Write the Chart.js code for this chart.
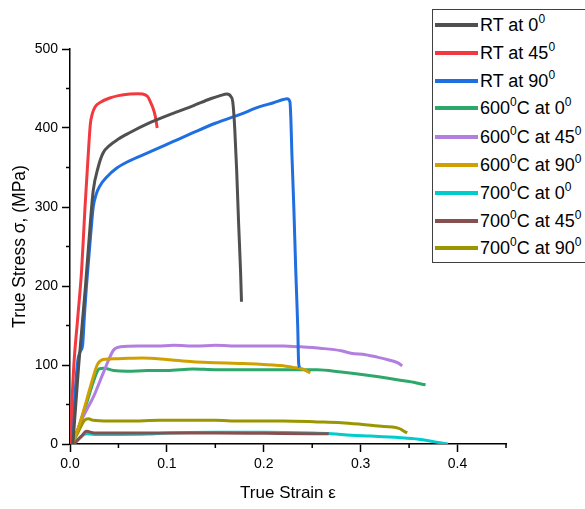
<!DOCTYPE html>
<html>
<head>
<meta charset="utf-8">
<script src="https://cdn.jsdelivr.net/npm/chart.js@4/dist/chart.umd.min.js"></script>
<style>
body{margin:0;width:585px;height:509px;overflow:hidden;background:#fff;font-family:'Liberation Sans',Arial,sans-serif;}
#wrap{position:relative;width:585px;height:509px;}
#legend{position:absolute;left:432px;top:9px;width:170px;height:252px;border:1px solid #404040;background:#fff;}
.row{position:absolute;left:0;height:20px;white-space:nowrap;}
.row .ln{position:absolute;left:2px;top:8px;width:43px;height:4px;}
.row .tx{position:absolute;left:47px;top:0px;font-size:18px;color:#000;line-height:20px;}
.row .tx span{font-size:12px;position:relative;top:-8px;}
</style>
</head>
<body>
<div id="wrap">
<canvas id="chart" width="585" height="509"></canvas>
<div id="legend"></div>
</div>
<script>
// curves, [strain, stress MPa]
var rt0 = [[0.003,0],[0.009,100],[0.016,200],[0.021,280],[0.024,321],[0.029,350],[0.034,368],[0.041,378],[0.05,386],[0.06,393],[0.083,407],[0.105,418],[0.127,428],[0.145,437],[0.155,441],[0.162,443],[0.166,440],[0.168,433],[0.17,400],[0.172,347],[0.174,280],[0.176,220],[0.177,180]];
var rt45 = [[0.0,0],[0.004,100],[0.008,160],[0.012,220],[0.0155,300],[0.019,370],[0.021,405],[0.023,418],[0.026,427],[0.032,433],[0.041,438],[0.05,441],[0.062,443],[0.07,443.5],[0.075,443],[0.08,440],[0.083,433],[0.086,424],[0.088,415],[0.09,400]];
var rt90 = [[0.002,0],[0.005,60],[0.008,105],[0.011,118],[0.013,125],[0.015,165],[0.017,200],[0.021,260],[0.024,300],[0.027,316],[0.031,327],[0.038,338],[0.048,349],[0.059,357],[0.083,370],[0.105,382],[0.127,394],[0.15,406],[0.175,417],[0.196,427],[0.21,432],[0.22,436],[0.224,437],[0.227,433],[0.228,410],[0.229,368],[0.231,300],[0.233,220],[0.235,150],[0.236,102],[0.237,97]];
var c600_0 = [[0.003,0],[0.01,25],[0.018,55],[0.025,82],[0.03,95],[0.035,96],[0.045,93],[0.059,92],[0.08,93],[0.1,93],[0.127,95],[0.15,94],[0.175,94],[0.196,94],[0.22,94],[0.255,94],[0.28,91],[0.307,87],[0.33,83],[0.35,79],[0.367,75]];
var c600_45 = [[0.002,0],[0.013,33],[0.025,62],[0.035,92],[0.045,119],[0.052,123],[0.07,124],[0.09,124],[0.107,125],[0.13,124],[0.15,125],[0.175,124],[0.196,124],[0.22,124],[0.238,123],[0.26,121],[0.28,118],[0.29,115],[0.305,113],[0.317,110],[0.33,106],[0.338,103],[0.343,99]];
var c600_90 = [[0.002,0],[0.008,18],[0.014,42],[0.02,68],[0.024,85],[0.028,100],[0.031,105],[0.034,107],[0.05,108],[0.075,109],[0.1,107],[0.127,104],[0.15,103],[0.175,102],[0.196,101],[0.21,100],[0.22,99],[0.23,97],[0.24,95],[0.245,92],[0.248,90]];
var c700_0 = [[0.004,0],[0.01,8],[0.017,13],[0.025,12],[0.05,12],[0.08,12.5],[0.1,14],[0.15,15],[0.2,15],[0.25,14],[0.27,13],[0.29,11],[0.31,10],[0.341,8],[0.36,6],[0.375,3],[0.39,0]];
var c700_45 = [[0.004,0],[0.012,10],[0.017,16],[0.025,14],[0.041,14],[0.07,14],[0.1,14],[0.15,14],[0.2,13.5],[0.25,13],[0.267,13]];
var c700_90 = [[0.002,0],[0.008,14],[0.015,30],[0.019,32],[0.024,30],[0.04,29],[0.06,29],[0.093,30],[0.12,30],[0.15,30],[0.175,29],[0.196,29],[0.22,29],[0.255,28],[0.28,27],[0.3,25],[0.324,22],[0.336,21],[0.341,19],[0.345,16],[0.348,14]];

var names = ['RT at 0|', 'RT at 45|', 'RT at 90|', '600|C at 0|', '600|C at 45|', '600|C at 90|', '700|C at 0|', '700|C at 45|', '700|C at 90|'];
var curves = [rt0, rt45, rt90, c600_0, c600_45, c600_90, c700_0, c700_45, c700_90];
var colors = ['#505050', '#f2393f', '#1f6fe0', '#2ea86a', '#b27ee0', '#d0a000', '#00cccc', '#875050', '#9a9600'];
var drawOrder = [0, 0, 0, 5, 4, 3, 5, 4, 3];

var xMax = 0.45, yMax = 500;

function isMajor(v, step){
    var q = v / step;
    return Math.abs(q - Math.round(q)) < 1e-6;
}

// short minor ticks, the long ones come from the grid
var minorTicks = {
    id: 'minorTicks',
    afterDraw(chart){
        var ctx = chart.ctx;
        var xs = chart.scales.x, ys = chart.scales.y;
        ctx.save();
        ctx.strokeStyle = '#000';
        ctx.lineWidth = 1.5;
        xs.ticks.forEach(function(t){
            if(isMajor(t.value, 0.1)) return;
            var px = xs.getPixelForValue(t.value);
            ctx.beginPath();
            ctx.moveTo(px, xs.top);
            ctx.lineTo(px, xs.top + 4);
            ctx.stroke();
        });
        ys.ticks.forEach(function(t){
            if(isMajor(t.value, 100)) return;
            var py = ys.getPixelForValue(t.value);
            ctx.beginPath();
            ctx.moveTo(ys.right, py);
            ctx.lineTo(ys.right - 4, py);
            ctx.stroke();
        });
        ctx.restore();
    }
};

var datasets = [];
for(var i = 0; i < curves.length; i++){
    datasets.push({
        label: names[i].replace(/\|/g, '\u2070'),
        data: curves[i].map(function(p){ return {x: p[0], y: p[1]}; }),
        borderColor: colors[i],
        borderWidth: 3,
        pointRadius: 0,
        fill: false,
        cubicInterpolationMode: 'monotone',
        order: drawOrder[i]
    });
}

var fontFam = "'Liberation Sans', Arial, sans-serif";

new Chart(document.getElementById('chart').getContext('2d'), {
    type: 'line',
    data: {datasets: datasets},
    plugins: [minorTicks],
    options: {
        responsive: false,
        animation: false,
        devicePixelRatio: 1,
        layout: {padding: {top: 49, right: 79, left: 0, bottom: 0}},
        plugins: {
            legend: {display: false},
            tooltip: {enabled: false}
        },
        scales: {
            x: {
                type: 'linear',
                min: 0,
                max: xMax,
                afterFit(scale){ scale.height = 65; },
                border: {display: true, color: '#000', width: 1.5},
                grid: {
                    drawOnChartArea: false,
                    tickLength: 8,
                    tickWidth: 1.5,
                    tickColor: function(c){ return isMajor(c.tick.value, 0.1) ? '#000' : 'rgba(0,0,0,0)'; }
                },
                ticks: {
                    stepSize: 0.05,
                    autoSkip: false,
                    maxRotation: 0,
                    padding: 4,
                    color: '#000',
                    font: {family: fontFam, size: 14},
                    callback: function(v){ return isMajor(v, 0.1) ? v.toFixed(1) : ''; }
                },
                title: {
                    display: true,
                    text: 'True Strain \u03b5',
                    color: '#000',
                    font: {family: fontFam, size: 17},
                    padding: {top: 0, bottom: 5}
                }
            },
            y: {
                min: 0,
                max: yMax,
                afterFit(scale){ scale.width = 70; },
                border: {display: true, color: '#000', width: 1.5},
                grid: {
                    drawOnChartArea: false,
                    tickLength: 8,
                    tickWidth: 1.5,
                    tickColor: function(c){ return isMajor(c.tick.value, 100) ? '#000' : 'rgba(0,0,0,0)'; }
                },
                ticks: {
                    stepSize: 50,
                    autoSkip: false,
                    padding: 4,
                    color: '#000',
                    font: {family: fontFam, size: 14},
                    callback: function(v){ return isMajor(v, 100) ? String(v) : ''; }
                },
                title: {
                    display: true,
                    text: 'True Stress \u03c3, (MPa)',
                    color: '#000',
                    font: {family: fontFam, size: 17.5},
                    padding: {top: 10, bottom: 0}
                }
            }
        }
    }
});

// legend box with real superscripts
var leg = document.getElementById('legend');
var rowTops = [24, 52, 80, 107, 136, 164, 192, 220, 247];
for(var j = 0; j < names.length; j++){
    var parts = names[j].split('|');
    var html = '';
    for(var k = 0; k < parts.length; k++){
        html += parts[k];
        if(k < parts.length - 1) html += '<span>0</span>';
    }
    var row = document.createElement('div');
    row.className = 'row';
    row.style.top = (rowTops[j] - 9 - 10) + 'px';
    row.innerHTML = '<div class="ln" style="background:' + colors[j] + '"></div><div class="tx">' + html + '</div>';
    leg.appendChild(row);
}
</script>
</body>
</html>
